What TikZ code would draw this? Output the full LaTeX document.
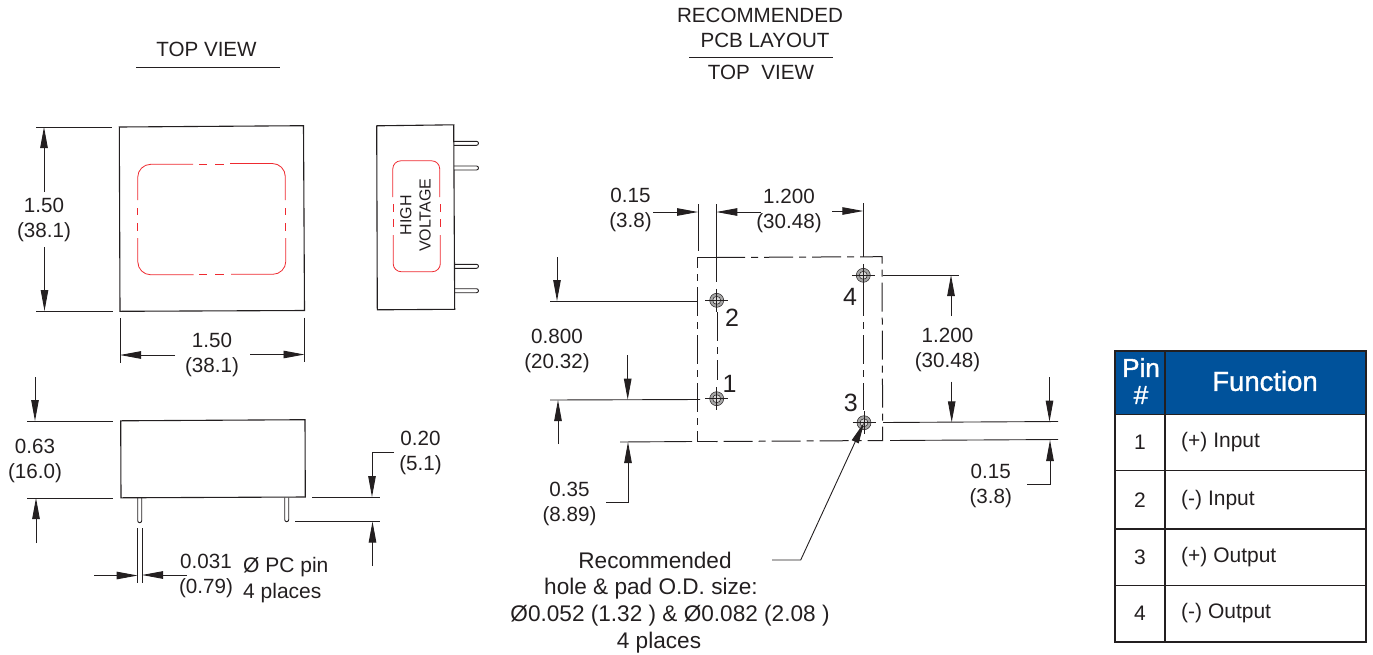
\documentclass[tikz,border=0pt]{standalone}
\usepackage{fontspec}
\setmainfont{Liberation Sans}
\newfontfamily\headfont[FakeBold=1.2]{Liberation Sans}
\usetikzlibrary{arrows.meta}
\definecolor{inkgray}{HTML}{231F20}
\definecolor{tableblue}{HTML}{00529B}
\definecolor{hvred}{HTML}{EE2A30}
\tikzset{
  outline/.style={draw=inkgray,line width=1.1pt},
  thin line/.style={draw=inkgray,line width=.9pt},
  dimarrow/.style={thin line,-{Triangle[length=21pt,width=7.5pt]}},
  hvline/.style={draw=hvred,line width=.8pt},
  padline/.style={draw=inkgray,line width=1pt,dash pattern=on 29pt off 6pt on 7pt off 6pt},
  dimtext/.style={align=center,inner sep=0pt,text=inkgray,font=\fontsize{20.6}{25}\selectfont},
  notetext/.style={inner sep=0pt,text=inkgray,font=\fontsize{22.6}{27}\selectfont},
  pinnum/.style={inner sep=0pt,text=inkgray,font=\fontsize{25}{25}\selectfont},
  rowtext/.style={inner sep=0pt,text=inkgray,font=\fontsize{21}{25}\selectfont},
  headtext/.style={align=center,inner sep=0pt,text=white,font=\headfont\fontsize{27.5}{27}\selectfont},
}
\begin{document}
\begin{tikzpicture}[x=1pt,y=-1pt]
	    \useasboundingbox(0,0) rectangle (1373,654);
	    % titles
	    \node[dimtext](viewa) at (206.5,49.3){TOP VIEW};
	    \draw[thin line](136,67)--(280,67);
	    \node[dimtext](reca) at (760,15.7){RECOMMENDED};
	    \node[dimtext](recb) at (765,40.3){PCB LAYOUT};
	    \draw[thin line](689,57)--(833,57);
	    \node[dimtext](viewb) at (761,72.5){TOP\ \ VIEW};
	    % top view body
	    \draw[outline](119.3,127)--(303.5,125.7)--(304.5,310.5)--(120,311.3)--cycle;
	    \draw[hvline,rounded corners=13pt](193,164.3)--(137.7,164.3)--(137.7,200);
	    \draw[hvline,rounded corners=13pt](193.5,274.8)--(137.8,274.8)--(137.8,238);
	    \draw[hvline,rounded corners=13pt](230,163.5)--(285.3,163.5)--(285.3,200);
	    \draw[hvline,rounded corners=13pt](231,274.3)--(285.8,274.3)--(285.8,238);
	    \draw[hvline](199,164)--(207,164) (215,164)--(224,164);
	    \draw[hvline](199,274.5)--(207,274.5) (215,274.5)--(224,274.5);
	    \draw[hvline](137.8,208)--(137.8,215) (137.8,223)--(137.8,231);
	    \draw[hvline](285.5,208)--(285.5,215) (285.5,223)--(285.5,231);
	    % side view body
	    \draw[outline](376.7,125.8)--(453.7,124.8)--(454.7,309.3)--(377.3,309.8)--cycle;
	    \foreach \pinline in {143.3,168,266.3,290.7}
	      \draw[thin line,rounded corners=2pt](454,\pinline-2)--(478.5,\pinline-2)--(478.5,\pinline+2)--(454,\pinline+2);
	    \draw[hvline,rounded corners=8pt](392.8,197)--(392.8,160.8)--(439.7,160.8)--(439.7,197);
	    \draw[hvline,rounded corners=8pt](393.2,235)--(393.2,271.7)--(440.3,271.7)--(440.3,235);
	    \draw[hvline](393,204)--(393,212) (393,219)--(393,227);
	    \draw[hvline](440,204)--(440,212) (440,219)--(440,227);
	    \node[dimtext,font=\fontsize{16}{19.4}\selectfont,rotate=90](hvtext) at (415.5,215.3){HIGH\\VOLTAGE};
	    % top view dimensions
	    \draw[thin line](36,127)--(112,127);
	    \draw[thin line](36,311)--(113,311);
	    \draw[dimarrow](44,192)--(44,127);
	    \draw[dimarrow](44.5,247)--(44.5,311);
	    \node[dimtext](heighta) at (44,220){1.50\\(38.1)};
	    \draw[thin line](120,318)--(120,363);
	    \draw[thin line](304.5,317.5)--(304.5,362);
	    \draw[dimarrow](175,355)--(120,355);
	    \draw[dimarrow](250,354.5)--(304.5,354.5);
	    \node[dimtext](widtha) at (212,355){1.50\\(38.1)};
	    % front view
	    \draw[outline](120.7,420.8)--(305,419.7)--(305.3,497)--(121,497.8)--cycle;
	    \foreach \pinx/\piny in {139.7/522.7,286.7/521.7}
	      \draw[thin line,rounded corners=2pt](\pinx-2,497.5)--(\pinx-2,\piny)--(\pinx+2,\piny)--(\pinx+2,497.5);
	    \draw[thin line](27,421)--(113,421);
	    \draw[thin line](27,498)--(113,498);
	    \draw[dimarrow](35,377)--(35,421);
	    \draw[dimarrow](36,543)--(36,498);
	    \node[dimtext](heightb) at (35,461){0.63\\(16.0)};
	    \draw[thin line](312,497)--(380,497);
	    \draw[thin line](295,521.5)--(380,521.5);
	    \draw[dimarrow](394,452)--(372,452)--(372,497);
	    \draw[dimarrow](372.5,566)--(372.5,521.5);
	    \node[dimtext](pinlen) at (420.5,453){0.20\\(5.1)};
	    \draw[thin line](137.7,528)--(137.7,583);
	    \draw[thin line](142,528)--(142,583);
	    \draw[dimarrow](94,575.5)--(137.7,575.5);
	    \draw[dimarrow](187,575)--(142,575);
	    \node[dimtext](pindia) at (206,576){0.031\\(0.79)};
	    \node[dimtext,font=\fontsize{21}{25.5}\selectfont,align=left,anchor=west](pinnote) at (243,580){Ø PC pin\\4 places};
	    % layout outline and holes
	    \draw[padline](716,257.5)--(697.7,257.5)--(697.7,441.5)--(716,441.5);
	    \draw[padline](716,257.5)--(882,256.7)--(882.7,440.5)--(716,441.5);
	    \draw[thin line](716.3,204)--(716.3,282);
	    \draw[thin line](698,204)--(698,251);
	    \draw[thin line](863.3,203)--(863.3,257);
	    \draw[padline](717,312)--(717,380);
	    \draw[padline](863.5,287)--(863.5,410);
	    \foreach \holename/\holex/\holey in {pina/716.7/398.7,pinb/716.7/300.3,pinc/864/422.7,pind/863.3/275.3}{
	      \coordinate (\holename) at (\holex,\holey);
	      \fill[black!35](\holename) circle (7pt);
	      \fill[white!85!black](\holename) circle (4pt);
	      \draw[draw=inkgray,line width=.5pt](\holename) circle (7pt);
	      \draw[draw=inkgray,line width=.5pt](\holename) circle (4pt);
	      \draw[thin line](\holex-11.5,\holey)--(\holex+11.5,\holey);
	      \draw[thin line](\holex,\holey-11.5)--(\holex,\holey+11.5);
	    }
	    \node[pinnum](numa) at (729.5,384){1};
	    \node[pinnum](numb) at (732,318){2};
	    \node[pinnum](numc) at (850.7,403){3};
	    \node[pinnum](numd) at (850,297){4};
	    % layout dimensions
	    \draw[dimarrow](653,212)--(698,212);
	    \draw[dimarrow](760.7,212)--(716.3,212);
	    \draw[dimarrow](832,211)--(863.3,211);
	    \node[dimtext](edgea) at (630.5,210){0.15\\(3.8)};
	    \node[dimtext](spanh) at (789,211){1.200\\(30.48)};
	    \draw[thin line](550,301)--(697,301);
	    \draw[thin line](550,400)--(700,399.5);
	    \draw[dimarrow](557,257)--(557,301);
	    \draw[dimarrow](627.7,355)--(627.7,399.7);
	    \draw[dimarrow](558,444)--(558,400);
	    \node[dimtext](spanv) at (557,351){0.800\\(20.32)};
	    \draw[thin line](620,442)--(692,441.5);
	    \draw[dimarrow](606,502)--(628,502)--(628,442);
	    \node[dimtext](edgeb) at (569.5,504){0.35\\(8.89)};
	    \draw[thin line](882.5,275)--(959,275);
	    \draw[dimarrow](951,316)--(951,275);
	    \draw[dimarrow](951.7,381.7)--(951.7,422.3);
	    \node[dimtext](spanw) at (947.5,350){1.200\\(30.48)};
	    \draw[thin line](883,422.5)--(1058,421.5);
	    \draw[thin line](890,440.5)--(1058,439.5);
	    \draw[dimarrow](1049.5,377)--(1049.5,421.7);
	    \draw[dimarrow](1027,484)--(1050,484)--(1050,440);
	    \node[dimtext](edgec) at (990.7,486){0.15\\(3.8)};
	    % hole note
	    \draw[dimarrow](772,560)--(800.7,560)--(pinc);
	    \node[notetext](notea) at (655,560){Recommended};
	    \node[notetext](noteb) at (651,588.5){hole \& pad O.D. size:};
	    \node[notetext](notec) at (670,615.5){Ø0.052 (1.32 ) \& Ø0.082 (2.08 )};
	    \node[notetext](noted) at (659,642.5){4 places};
	    % pin table
	    \fill[tableblue](1115,351) rectangle (1365.7,414.3);
	    \draw[draw=inkgray,line width=2.4pt](1115,351) rectangle (1365.7,642);
	    \draw[thin line,line width=1.2pt](1165,351)--(1165,642);
	    \foreach \rowline in {414.3,470.7,529,585.7}
	      \draw[thin line,line width=1.2pt](1115,\rowline)--(1365.7,\rowline);
	    \node[headtext,font=\headfont\fontsize{26}{27}\selectfont](headpin) at (1141,381){Pin\\\#};
	    \node[headtext](headfunc) at (1265,381){Function};
	    \foreach \rownum/\rowname/\rowy in {1/(+) Input/442,2/(-) Input/500,3/(+) Output/557,4/(-) Output/613}{
	      \node[rowtext](num\rownum) at (1140,\rowy){\rownum};
	      \node[rowtext,anchor=west](func\rownum) at (1181,\rowy){\rowname};
	    }
	\end{tikzpicture}
\end{document}
